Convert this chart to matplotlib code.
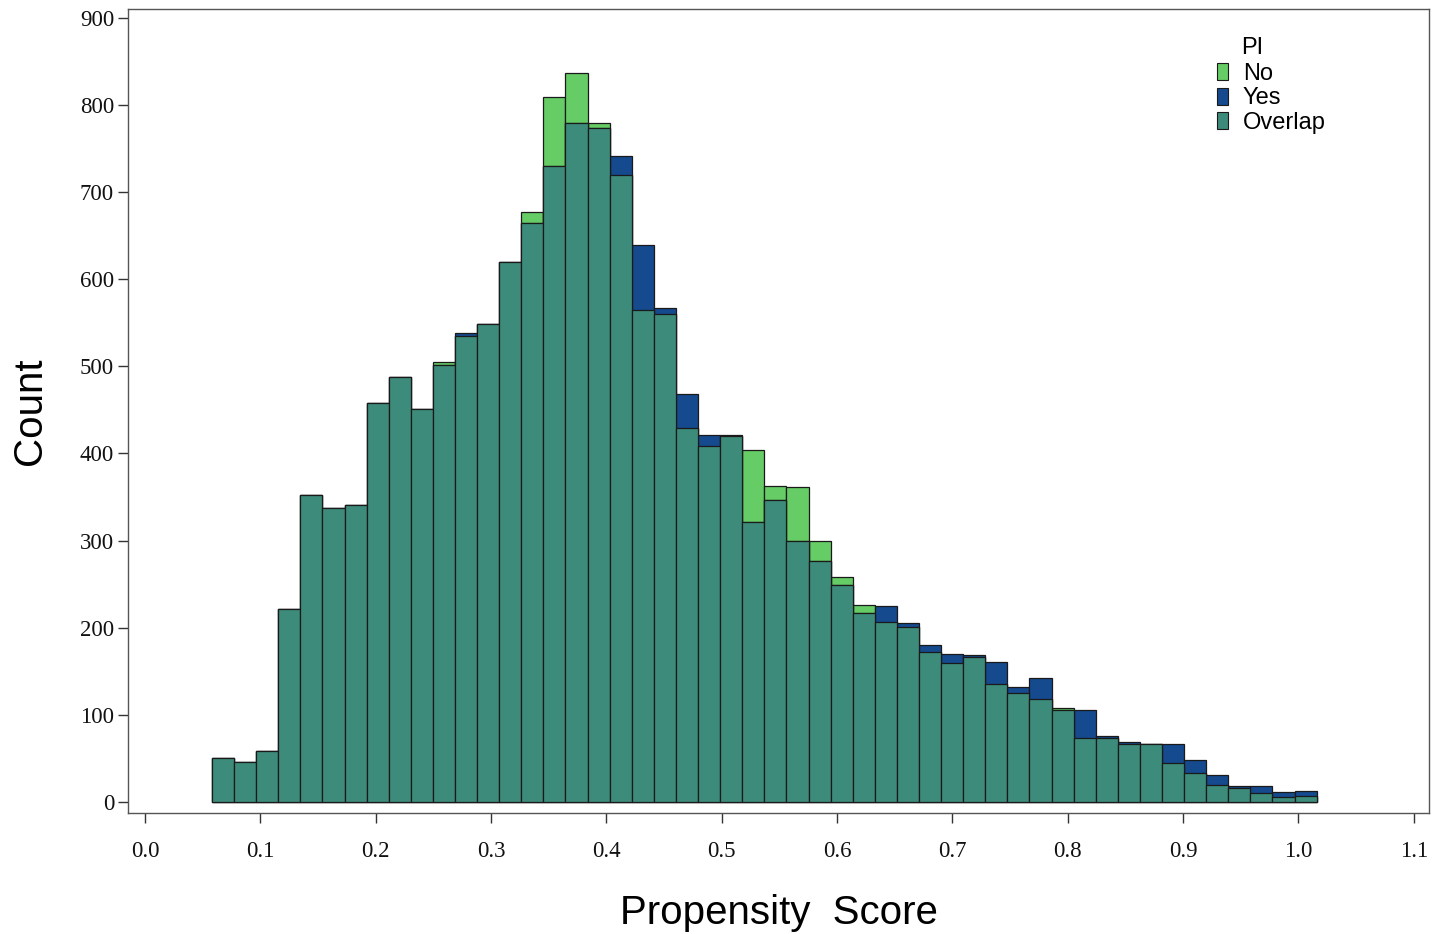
import numpy as np
import matplotlib
matplotlib.use("Agg")
import matplotlib.pyplot as plt
from matplotlib.patches import Patch

# histogram bins of propensity score (50 equal bins)
bin_start = 0.0581
bin_width = 0.019156
n_bins = 50

# counts per bin
count_no = [51, 46, 59, 222, 352, 337, 341, 458, 488, 451,
            505, 535, 548, 620, 677, 809, 836, 779, 719, 564,
            560, 429, 408, 420, 404, 363, 362, 300, 258, 226,
            207, 201, 172, 160, 166, 135, 125, 118, 108, 73,
            73, 67, 66, 45, 33, 19, 16, 10, 6, 7]
count_yes = [51, 46, 59, 222, 352, 337, 341, 458, 488, 451,
             502, 538, 548, 620, 664, 730, 779, 773, 741, 639,
             567, 468, 421, 421, 321, 347, 299, 276, 249, 217,
             225, 205, 180, 170, 169, 161, 132, 142, 106, 105,
             76, 69, 67, 66, 48, 31, 18, 18, 11, 13]

x_ticks = [0.0, 0.1, 0.2, 0.3, 0.4, 0.5, 0.6, 0.7, 0.8, 0.9, 1.0, 1.1]
y_ticks = [0, 100, 200, 300, 400, 500, 600, 700, 800, 900]

col_no = "#66CC66"
col_yes = "#154A8E"
col_overlap = "#3D8B7A"

label_font = ["Liberation Sans", "DejaVu Sans"]
tick_font = ["Liberation Serif", "DejaVu Serif"]


def plotting(no, yes):
    """draw the overlapping histogram of the two groups"""
    fig = plt.figure(figsize=(14.46, 9.34), dpi=100)
    ax = fig.add_axes([0.0885, 0.1296, 0.9, 0.8608])

    left = bin_start + bin_width * np.arange(n_bins)
    no = np.asarray(no)
    yes = np.asarray(yes)
    overlap = np.minimum(no, yes)

    kw = dict(width=bin_width, align="edge", edgecolor="#1a1a1a", linewidth=0.9)
    ax.bar(left, no, color=col_no, **kw)
    ax.bar(left, yes, color=col_yes, **kw)
    ax.bar(left, overlap, color=col_overlap, **kw)

    ax.set_xlim(-0.0147, 1.1136)
    ax.set_ylim(-12.6, 910)
    ax.set_xticks(x_ticks)
    ax.set_xticklabels([f"{t:.1f}" for t in x_ticks], family=tick_font, fontsize=16.5)
    ax.set_yticks(y_ticks)
    ax.set_yticklabels([str(t) for t in y_ticks], family=tick_font, fontsize=16.5)
    ax.tick_params(axis="x", length=7, width=1, pad=13, colors="#333333", labelcolor="#111111")
    ax.tick_params(axis="y", length=7, width=1, pad=3, colors="#333333", labelcolor="#111111")
    for s in ax.spines.values():
        s.set_color("#555555")
        s.set_linewidth(1)

    ax.set_xlabel("Propensity  Score", family=label_font, fontsize=29, labelpad=23)
    ax.set_ylabel("Count", family=label_font, fontsize=29, labelpad=22)

    handles = [Patch(facecolor=col_no, edgecolor="#1a1a1a", linewidth=0.8, label="No"),
               Patch(facecolor=col_yes, edgecolor="#1a1a1a", linewidth=0.8, label="Yes"),
               Patch(facecolor=col_overlap, edgecolor="#1a1a1a", linewidth=0.8, label="Overlap")]
    ax.legend(handles=handles, loc="upper left", bbox_to_anchor=(0.8295, 0.9445),
              frameon=False, handlelength=0.45, handleheight=0.72, handletextpad=0.65,
              labelspacing=0.1, borderaxespad=0, prop={"family": label_font, "size": 17})
    ax.text(0.8555, 0.9515, "PI", transform=ax.transAxes, ha="left", va="center",
            family=label_font, fontsize=17)
    return fig


if __name__ == "__main__":
    fig = plotting(count_no, count_yes)
    fig.savefig("out.png", dpi=100)
